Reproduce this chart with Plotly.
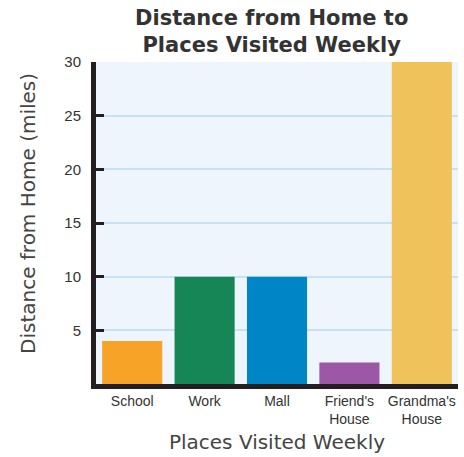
import plotly.graph_objects as go

# Weekly destinations and their distance from home (miles)
places = ["School", "Work", "Mall", "Friend's<br>House", "Grandma's<br>House"]
miles = [4, 10, 10, 2, 30]
bar_colors = ["#F6A328", "#178657", "#0086C6", "#9C58A6", "#F0C25B"]

y_ticks = [5, 10, 15, 20, 25, 30]

fig = go.Figure(
    go.Bar(
        x=places,
        y=miles,
        marker=dict(color=bar_colors, line=dict(width=0)),
        hoverinfo="x+y",
    )
)

axis_black = "#231F20"
text_gray = "#333333"
label_font = "Liberation Sans, Arial, sans-serif"
title_font = "DejaVu Sans, Verdana, sans-serif"

fig.update_layout(
    width=464,
    height=457,
    margin=dict(l=96, r=6, t=62, b=73),
    paper_bgcolor="white",
    plot_bgcolor="#EEF5FC",
    bargap=0.17,
    showlegend=False,
    xaxis=dict(
        showline=True,
        linewidth=5,
        linecolor=axis_black,
        ticks="",
        tickfont=dict(family=label_font, size=14, color=text_gray),
        title=dict(
            text="Places Visited Weekly",
            font=dict(family=title_font, size=20, color="#444444"),
            standoff=10,
        ),
        showgrid=False,
        fixedrange=True,
    ),
    yaxis=dict(
        range=[0, 30],
        tickvals=y_ticks,
        ticktext=[str(v) for v in y_ticks],
        showline=True,
        linewidth=5,
        linecolor=axis_black,
        ticks="inside",
        ticklen=8,
        tickwidth=3,
        tickcolor=axis_black,
        ticklabelstandoff=7,
        tickfont=dict(family=label_font, size=15, color=text_gray),
        showgrid=True,
        gridcolor="#C9E1F5",
        gridwidth=1.5,
        zeroline=False,
        fixedrange=True,
    ),
    annotations=[
        # chart title
        dict(
            text="<b>Distance from Home to<br>Places Visited Weekly</b>",
            xref="paper",
            yref="paper",
            x=0.486,
            y=1,
            xanchor="center",
            yanchor="bottom",
            yshift=3,
            showarrow=False,
            font=dict(family=title_font, size=21, color=text_gray),
        ),
        # y-axis title
        dict(
            text="Distance from Home (miles)",
            textangle=-90,
            xref="paper",
            yref="paper",
            x=0,
            y=0.5,
            xanchor="center",
            yanchor="middle",
            xshift=-68,
            yshift=9,
            showarrow=False,
            font=dict(family=title_font, size=20, color="#444444"),
        ),
    ],
)

fig.write_html("out.html")
